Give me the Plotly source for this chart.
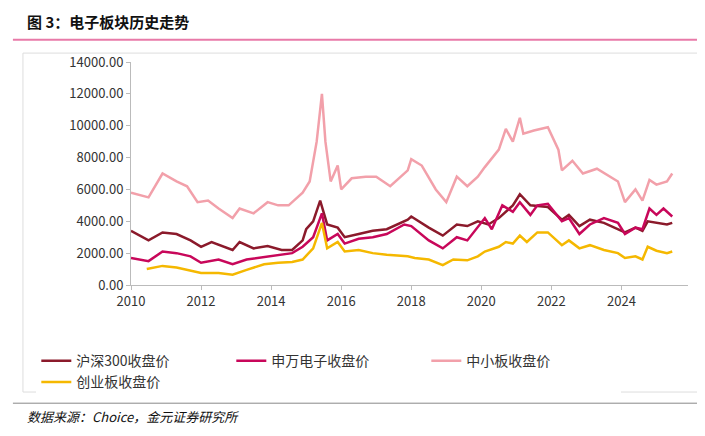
import plotly.graph_objects as go

# 沪深300
hs_x = [2010.0, 2010.5, 2010.9, 2011.3, 2011.7, 2012.0, 2012.3, 2012.9, 2013.1, 2013.5, 2013.9, 2014.3, 2014.6,
        2014.9, 2015.0, 2015.2, 2015.4, 2015.6, 2015.9, 2016.1, 2016.5, 2016.9, 2017.3, 2017.9, 2018.0, 2018.5,
        2018.9, 2019.3, 2019.6, 2019.9, 2020.2, 2020.5, 2020.9, 2021.1, 2021.4, 2021.9, 2022.3, 2022.5, 2022.8,
        2023.1, 2023.5, 2023.9, 2024.1, 2024.4, 2024.6, 2024.75, 2025.0, 2025.3, 2025.45]
hs_y = [3400, 2800, 3300, 3200, 2800, 2400, 2700, 2200, 2700, 2300, 2450, 2200, 2200,
        2800, 3500, 4000, 5300, 3800, 3600, 3000, 3200, 3400, 3500, 4100, 4300, 3600,
        3100, 3800, 3700, 4000, 3800, 4200, 5000, 5700, 5000, 4900, 4100, 4400, 3700,
        4100, 3900, 3500, 3300, 3600, 3400, 4000, 3900, 3800, 3900]

# 申万电子
sw_x = [2010.0, 2010.5, 2010.9, 2011.3, 2011.7, 2012.0, 2012.5, 2012.9, 2013.3, 2013.9, 2014.3, 2014.6, 2014.9,
        2015.2, 2015.45, 2015.6, 2015.9, 2016.1, 2016.5, 2016.9, 2017.3, 2017.8, 2018.0, 2018.5, 2018.9, 2019.3,
        2019.6, 2019.9, 2020.1, 2020.3, 2020.6, 2020.9, 2021.1, 2021.4, 2021.6, 2021.9, 2022.3, 2022.5, 2022.8,
        2023.1, 2023.5, 2023.9, 2024.1, 2024.4, 2024.6, 2024.8, 2025.0, 2025.2, 2025.45]
sw_y = [1700, 1500, 2100, 2000, 1800, 1400, 1600, 1300, 1600, 1800, 1900, 2000, 2400,
        3000, 4500, 2800, 3200, 2600, 2900, 3000, 3200, 3800, 3700, 2800, 2300, 3000,
        2800, 3600, 4200, 3500, 5000, 4600, 5200, 4400, 5000, 5100, 4000, 4200, 3200,
        3800, 4200, 3900, 3200, 3600, 3500, 4800, 4400, 4800, 4300]

# 中小板
zx_x = [2010.0, 2010.5, 2010.9, 2011.3, 2011.6, 2011.9, 2012.2, 2012.5, 2012.9, 2013.1, 2013.5, 2013.9, 2014.2,
        2014.5, 2014.9, 2015.1, 2015.3, 2015.45, 2015.55, 2015.7, 2015.9, 2016.0, 2016.3, 2016.7, 2017.0, 2017.4,
        2017.9, 2018.0, 2018.3, 2018.7, 2019.0, 2019.3, 2019.6, 2019.9, 2020.1, 2020.5, 2020.7, 2020.9, 2021.1,
        2021.2, 2021.5, 2021.9, 2022.2, 2022.3, 2022.6, 2022.9, 2023.3, 2023.6, 2023.9, 2024.1, 2024.4, 2024.6,
        2024.8, 2025.0, 2025.3, 2025.45]
zx_y = [5800, 5500, 7000, 6500, 6200, 5200, 5300, 4800, 4200, 4800, 4500, 5200, 5000,
        5000, 5800, 6500, 9000, 12000, 9000, 6500, 7500, 6000, 6700, 6800, 6800, 6200,
        7200, 7900, 7500, 6000, 5200, 6800, 6200, 6800, 7400, 8500, 9800, 9000, 10500,
        9500, 9700, 9900, 8500, 7200, 7800, 7000, 7300, 6900, 6500, 5200, 6000, 5300,
        6600, 6300, 6500, 7000]

# 创业板
cy_x = [2010.45, 2010.9, 2011.3, 2011.7, 2012.0, 2012.5, 2012.9, 2013.3, 2013.8, 2014.2, 2014.6, 2014.9, 2015.2,
        2015.45, 2015.6, 2015.9, 2016.1, 2016.5, 2016.9, 2017.3, 2017.9, 2018.1, 2018.5, 2018.9, 2019.2, 2019.6,
        2019.9, 2020.1, 2020.5, 2020.7, 2020.9, 2021.1, 2021.3, 2021.6, 2021.9, 2022.3, 2022.5, 2022.8, 2023.1,
        2023.5, 2023.9, 2024.1, 2024.4, 2024.6, 2024.75, 2025.0, 2025.3, 2025.45]
cy_y = [1000, 1200, 1100, 900, 750, 750, 650, 950, 1300, 1400, 1450, 1600, 2300,
        3900, 2300, 2700, 2100, 2200, 2000, 1900, 1800, 1700, 1600, 1250, 1600, 1550,
        1800, 2100, 2400, 2700, 2600, 3100, 2700, 3300, 3300, 2500, 2800, 2300, 2500,
        2200, 2000, 1700, 1800, 1600, 2400, 2150, 2000, 2100]

year_ticks = [2010, 2012, 2014, 2016, 2018, 2020, 2022, 2024]
y_ticks = [0, 2000, 4000, 6000, 8000, 10000, 12000, 14000]

font = "Noto Sans CJK SC"
fig = go.Figure()
series = [
    ("沪深300收盘价", hs_x, hs_y, "#8b1a2b"),
    ("申万电子收盘价", sw_x, sw_y, "#c8075a"),
    ("中小板收盘价", zx_x, zx_y, "#f2a0aa"),
    ("创业板收盘价", cy_x, cy_y, "#f5b800"),
]
for name, xs, ys, col in series:
    fig.add_trace(go.Scatter(x=xs, y=ys, mode="lines", name=name,
                             line=dict(color=col, width=2.5)))

fig.update_layout(
    width=705, height=436,
    margin=dict(l=123, r=25, t=54, b=159),
    paper_bgcolor="white", plot_bgcolor="white",
    font=dict(family=font, size=13, color="#333"),
    xaxis=dict(range=[2010, 2025.9], tickvals=year_ticks, showgrid=False,
               showline=True, linecolor="#bbb", ticks="outside", ticklen=4, tickcolor="#bbb",
               zeroline=False),
    yaxis=dict(range=[0, 14000], tickvals=y_ticks,
               ticktext=[f"{v:.2f}" for v in y_ticks], showgrid=False,
               showline=True, linecolor="#bbb", ticks="outside", ticklen=4, tickcolor="#bbb",
               zeroline=False),
    legend=dict(orientation="h", x=-0.17, y=-0.27, xanchor="left", yanchor="top",
                font=dict(size=14), entrywidth=150, traceorder="normal"),
    shapes=[
        dict(type="rect", xref="paper", yref="paper", x0=-0.194, x1=1.023, y0=-0.48, y1=1.04,
             line=dict(color="#ddd", width=1)),
        dict(type="line", xref="paper", yref="paper", x0=-0.212, x1=1.036, y0=1.10, y1=1.10,
             line=dict(color="#e87aa8", width=2)),
        dict(type="line", xref="paper", yref="paper", x0=-0.212, x1=1.036, y0=-0.53, y1=-0.53,
             line=dict(color="#888", width=1)),
    ],
    annotations=[
        dict(text="<b>图 3：电子板块历史走势</b>", xref="paper", yref="paper", x=-0.19, y=1.18,
             xanchor="left", yanchor="middle", showarrow=False, font=dict(size=15, color="#111")),
        dict(text="<i>数据来源：Choice，金元证券研究所</i>", xref="paper", yref="paper", x=-0.19, y=-0.59,
             xanchor="left", yanchor="middle", showarrow=False, font=dict(size=13, color="#111")),
    ],
)

fig.write_html("out.html")
